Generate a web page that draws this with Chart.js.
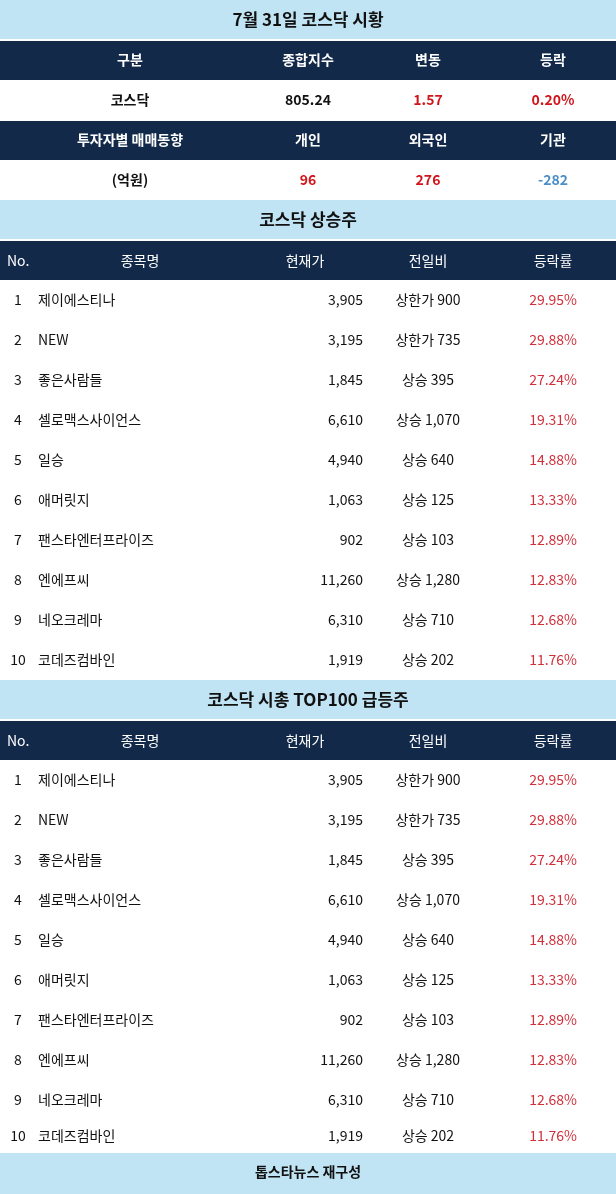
<!DOCTYPE html><html><head><meta charset="utf-8">
<script src="https://cdn.jsdelivr.net/npm/chart.js@4"></script>
<style>html,body{margin:0;padding:0;background:#fff}#w{width:616px;height:1194px}</style></head><body>
<div id="w"><canvas id="c"></canvas></div>
<script>
const title = "7월 31일 코스닥 시황";
const marketHeader = ["구분","종합지수","변동","등락"];
const marketRow = ["코스닥","805.24","1.57","0.20%"];
const investorHeader = ["투자자별 매매동향","개인","외국인","기관"];
const investorRow = ["(억원)","96","276","-282"];
const section1 = "코스닥 상승주";
const section2 = "코스닥 시총 TOP100 급등주";
const tableHeader = ["No.","종목명","현재가","전일비","등락률"];
const names = ["제이에스티나","NEW","좋은사람들","셀로맥스사이언스","일승","애머릿지","팬스타엔터프라이즈","엔에프씨","네오크레마","코데즈컴바인"];
const prices = [3905,3195,1845,6610,4940,1063,902,11260,6310,1919];
const changes = ["상한가 900","상한가 735","상승 395","상승 1,070","상승 640","상승 125","상승 103","상승 1,280","상승 710","상승 202"];
const rates = [29.95,29.88,27.24,19.31,14.88,13.33,12.89,12.83,12.68,11.76];
const footer = "톱스타뉴스 재구성";

const LB="#c1e4f4", NV="#12294a", RED="#d0161b", RRED="#d0303a", BLUE="#4a8fc8";
const F='"Noto Sans CJK KR","Noto Sans",sans-serif';
function draw(chart){
  const ctx=chart.ctx, X=v=>chart.scales.x.getPixelForValue(v), Y=v=>chart.scales.y.getPixelForValue(v);
  const band=(y0,y1,c)=>{ctx.fillStyle=c;ctx.fillRect(X(0),Y(y0),X(616)-X(0),Y(y1)-Y(y0));};
  const txt=(s,x,y,o)=>{ctx.font=(o.b?'bold ':'')+(o.s||14)+'px '+F;ctx.fillStyle=o.c||'#111';ctx.textAlign=o.a||'center';ctx.textBaseline='middle';ctx.fillText(s,X(x),Y(y));};
  band(0,39,LB); txt(title,308,20,{b:1,s:17});
  const cx=[130,308,428,553];
  band(41,80,NV); marketHeader.forEach((s,i)=>txt(s,cx[i],60,{b:1,c:'#fff'}));
  const mc=['#111','#111',RED,RED];
  marketRow.forEach((s,i)=>txt(s,cx[i],100,{b:1,c:mc[i]}));
  band(121,160,NV); investorHeader.forEach((s,i)=>txt(s,cx[i],140,{b:1,c:'#fff'}));
  const ic=['#111',RED,RED,BLUE];
  investorRow.forEach((s,i)=>txt(s,cx[i],180,{b:1,c:ic[i]}));
  function table(top,sec,last){
    band(top,top+39,LB); txt(sec,308,top+20,{b:1,s:17});
    band(top+41,top+80,NV);
    txt(tableHeader[0],7,top+61,{c:'#fff',a:'left'});
    [[1,140],[2,305],[3,428],[4,553]].forEach(([i,x])=>txt(tableHeader[i],x,top+61,{c:'#fff'}));
    names.forEach((n,i)=>{
      const y=(i===9&&last)?top+456:top+100+i*40;
      txt(String(i+1),18,y,{});
      txt(n,38,y,{a:'left'});
      txt(prices[i].toLocaleString('en-US'),363,y,{a:'right'});
      txt(changes[i],428,y,{});
      txt(rates[i].toFixed(2)+'%',577,y,{a:'right',c:RRED});
    });
  }
  table(200,section1,false);
  table(680,section2,true);
  band(1153,1194,LB); txt(footer,308,1172,{b:1});
}
new Chart(document.getElementById('c'),{type:'scatter',
 data:{datasets:[{data:[],pointRadius:0}]},
 options:{responsive:true,maintainAspectRatio:false,animation:false,
  layout:{padding:0},
  plugins:{legend:{display:false},tooltip:{enabled:false}},
  scales:{x:{type:'linear',min:0,max:616,display:false},y:{type:'linear',min:0,max:1194,reverse:true,display:false}}},
 plugins:[{id:'tbl',afterDraw:draw}]});
</script></body></html>
